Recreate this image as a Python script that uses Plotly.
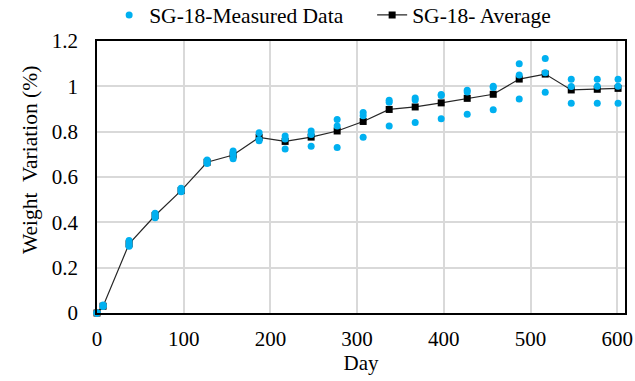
import plotly.graph_objects as go

days = [0, 7, 37, 67, 97, 127, 157, 187, 217, 247, 277, 307, 337, 367, 397, 427, 457, 487, 517, 547, 577, 601]
sample1 = [0, 0.030, 0.295, 0.420, 0.535, 0.660, 0.680, 0.760, 0.723, 0.736, 0.730, 0.775, 0.825, 0.840, 0.857, 0.877, 0.897, 0.944, 0.974, 0.925, 0.925, 0.925]
sample2 = [0, 0.030, 0.305, 0.430, 0.540, 0.665, 0.700, 0.765, 0.768, 0.788, 0.825, 0.870, 0.930, 0.940, 0.960, 0.975, 0.995, 1.050, 1.060, 0.999, 1.000, 1.000]
sample3 = [0, 0.035, 0.320, 0.440, 0.550, 0.675, 0.715, 0.795, 0.781, 0.803, 0.854, 0.885, 0.939, 0.949, 0.964, 0.983, 1.000, 1.100, 1.123, 1.031, 1.031, 1.031]
average = [0, 0.030, 0.305, 0.430, 0.540, 0.665, 0.697, 0.775, 0.757, 0.776, 0.803, 0.845, 0.898, 0.909, 0.927, 0.947, 0.965, 1.032, 1.054, 0.984, 0.987, 0.991]

x_ticks = [0, 100, 200, 300, 400, 500, 600]
y_ticks = [0, 0.2, 0.4, 0.6, 0.8, 1.0, 1.2]
y_tick_labels = ["0", "0.2", "0.4", "0.6", "0.8", "1", "1.2"]

font_family = "Times New Roman, Liberation Serif, serif"
blue = "#00B0F0"
fs = 21

fig = go.Figure()
fig.add_trace(go.Scatter(
    x=days, y=average, mode="lines+markers", name="SG-18- Average",
    line=dict(color="#262626", width=1.2),
    marker=dict(symbol="square", size=7, color="black"),
    cliponaxis=False, legendrank=2,
))
meas_x = days * 3
meas_y = sample1 + sample2 + sample3
fig.add_trace(go.Scatter(
    x=meas_x, y=meas_y, mode="markers", name="SG-18-Measured Data",
    marker=dict(size=7, color=blue),
    cliponaxis=False, legendrank=1,
))

fig.update_layout(
    width=635, height=381,
    margin=dict(l=97, r=10, t=41, b=68, autoexpand=False),
    paper_bgcolor="white", plot_bgcolor="white",
    font=dict(family=font_family, size=fs, color="black"),
    showlegend=True,
    legend=dict(orientation="h", x=0.023, xanchor="left", y=1.0956, yanchor="middle",
                font=dict(size=21.5), entrywidth=218, itemwidth=30,
                bgcolor="rgba(0,0,0,0)", tracegroupgap=0),
    xaxis=dict(
        range=[0, 609], tickvals=x_ticks, ticktext=[str(v) for v in x_ticks],
        showgrid=True, gridcolor="#d9d9d9", gridwidth=1.5,
        showline=True, linecolor="black", linewidth=1.5, mirror=True,
        zeroline=False, ticks="", ticklabelstandoff=6, automargin=False,
        title=dict(text="Day", font=dict(size=fs), standoff=2),
    ),
    yaxis=dict(
        range=[0, 1.2], tickvals=y_ticks, ticktext=y_tick_labels,
        showgrid=True, gridcolor="#d9d9d9", gridwidth=1.5,
        showline=True, linecolor="black", linewidth=1.5, mirror=True,
        zeroline=False, ticks="", ticklabelstandoff=13, automargin=False,
    ),
    annotations=[dict(
        text="Weight  Variation (%)", textangle=-90,
        xref="paper", yref="paper", x=(30 - 97) / 528, y=(313 - 160) / 272,
        xanchor="center", yanchor="middle", showarrow=False,
        font=dict(size=21.5, family=font_family),
    )],
)

fig.write_html("out.html", config={"displayModeBar": False},
               post_script="document.body.style.margin='0';document.body.style.padding='0';")
